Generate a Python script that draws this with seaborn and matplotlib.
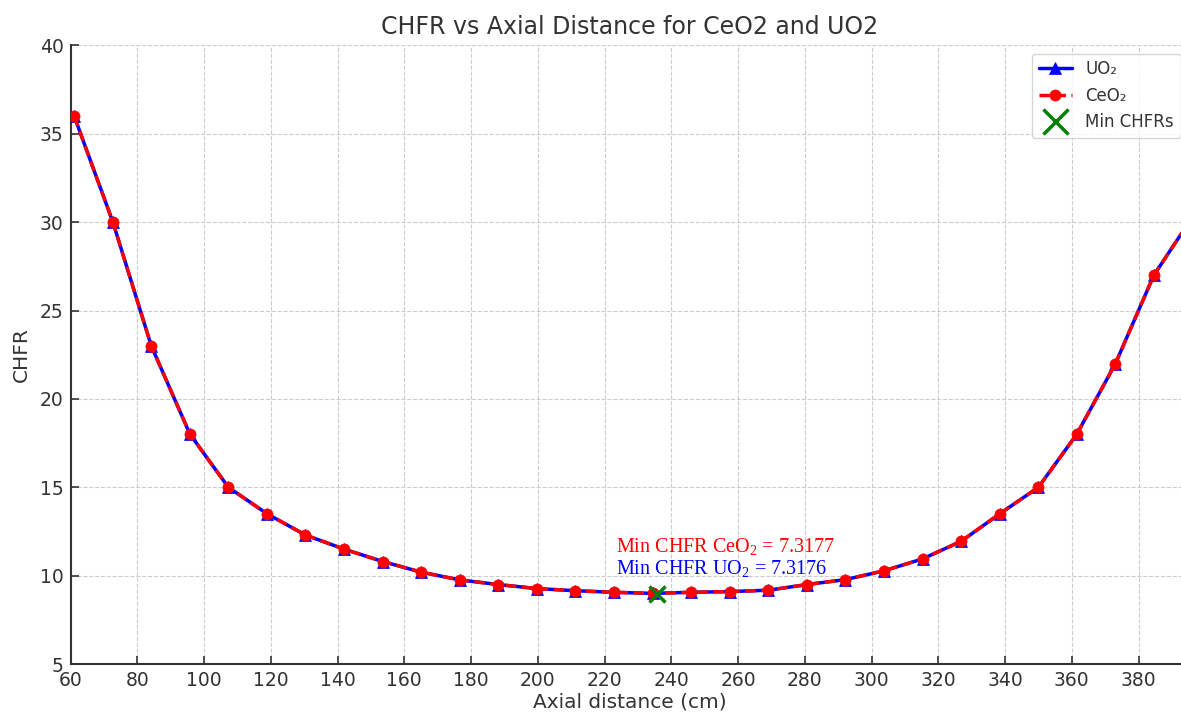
import numpy as np
import pandas as pd
import matplotlib
matplotlib.use("Agg")
import matplotlib.pyplot as plt
import seaborn as sns
from matplotlib.lines import Line2D

# ---- data ----
axial_cm = [61.1, 72.7, 84.2, 95.8, 107.3, 118.9, 130.4, 142.0, 153.6, 165.1,
            176.7, 188.2, 199.8, 211.3, 222.9, 234.4, 246.0, 257.5, 269.1, 280.7,
            292.2, 303.8, 315.3, 326.9, 338.4, 350.0, 361.5, 373.1, 384.6, 396.2]
chfr_uo2 = [36.0, 30.0, 23.0, 18.0, 15.0, 13.5, 12.3, 11.5, 10.8, 10.2,
            9.76, 9.5, 9.27, 9.15, 9.06, 9.0, 9.06, 9.1, 9.18, 9.5,
            9.78, 10.28, 10.95, 11.95, 13.5, 15.0, 18.0, 22.0, 27.0, 30.3]
chfr_ceo2 = [36.0, 30.0, 23.0, 18.0, 15.0, 13.5, 12.3, 11.5, 10.8, 10.2,
             9.76, 9.5, 9.27, 9.15, 9.06, 9.0, 9.06, 9.1, 9.18, 9.5,
             9.78, 10.28, 10.95, 11.95, 13.5, 15.0, 18.0, 22.0, 27.0, 30.3]
min_point_x = 235.6
min_point_y = 8.95
min_chfr_ceo2 = 7.3177
min_chfr_uo2 = 7.3176
x_ticks = [60, 80, 100, 120, 140, 160, 180, 200, 220, 240, 260, 280, 300, 320, 340, 360, 380]
y_ticks = [5, 10, 15, 20, 25, 30, 35, 40]

sns.set_theme(style="ticks")
plt.rcParams["font.family"] = ["DejaVu Sans"]
plt.rcParams["mathtext.fontset"] = "custom"
plt.rcParams["mathtext.rm"] = "Liberation Serif"
plt.rcParams["mathtext.it"] = "Liberation Serif:italic"
plt.rcParams["mathtext.bf"] = "Liberation Serif:bold"

text_col = "#333333"

fig = plt.figure(figsize=(11.81, 7.16), dpi=100)
ax = fig.add_axes([0.0597, 0.0725, 0.947, 0.8642])

df = pd.DataFrame({"x": axial_cm, "uo2": chfr_uo2, "ceo2": chfr_ceo2})

sns.lineplot(data=df, x="x", y="uo2", ax=ax, color="blue", marker="^",
             markersize=8, markeredgecolor="blue", markeredgewidth=0.5,
             linewidth=2.5, zorder=3)
sns.lineplot(data=df, x="x", y="ceo2", ax=ax, color="red", marker="o",
             markersize=8, markeredgecolor="red", markeredgewidth=0.5,
             linewidth=2.5, zorder=4)
lines = ax.get_lines()
lines[1].set_linestyle((0, (3.0, 1.6)))
ax.plot([min_point_x], [min_point_y], linestyle="none", marker="x",
        markersize=11, markeredgewidth=2.5, color="green", zorder=5)

ax.text(223.3, 11.36, f"Min CHFR CeO$_2$ = {min_chfr_ceo2:.4f}", color="red",
        fontsize=14.5, family="Liberation Serif", va="baseline", ha="left")
ax.text(223.3, 10.10, f"Min CHFR UO$_2$ = {min_chfr_uo2:.4f}", color="blue",
        fontsize=14.5, family="Liberation Serif", va="baseline", ha="left")

ax.set_xlim(60, 395.1)
ax.set_ylim(5, 40)
ax.set_xticks(x_ticks)
ax.set_yticks(y_ticks)

ax.grid(True, linestyle="--", color="#cccccc", linewidth=0.8)
ax.set_axisbelow(True)
sns.despine(ax=ax)
for s in ["left", "bottom"]:
    ax.spines[s].set_color(text_col)
    ax.spines[s].set_linewidth(1.5)
ax.tick_params(axis="both", direction="in", length=6, width=1.2, color=text_col,
               labelsize=13.5, labelcolor=text_col, pad=5)

ax.set_title("CHFR vs Axial Distance for CeO2 and UO2", fontsize=17, color=text_col, pad=8)
ax.set_xlabel("Axial distance (cm)", fontsize=14.5, color=text_col, labelpad=2)
ax.set_ylabel("CHFR", fontsize=14.5, color=text_col, labelpad=6)

handles = [lines[0], lines[1],
           Line2D([], [], linestyle="none", marker="x", markersize=18,
                  markeredgewidth=2.5, color="green")]
labels = ["UO\u2082", "CeO\u2082", "Min CHFRs"]
leg = ax.legend(handles, labels, loc="upper right", fontsize=12, frameon=True,
                framealpha=0.8, edgecolor="#cccccc", fancybox=True)
for t in leg.get_texts():
    t.set_color(text_col)

fig.savefig("out.png", dpi=100)
